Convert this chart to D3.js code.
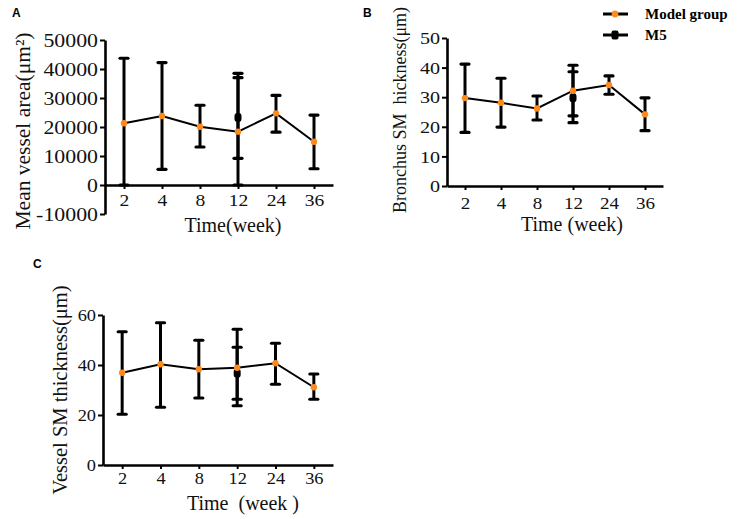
<!DOCTYPE html>
<html>
<head>
<meta charset="utf-8">
<script src="https://cdn.jsdelivr.net/npm/d3@7"></script>
<style>
  body { margin: 0; background: #fff; }
  svg { display: block; }
  .domain, .tick line { stroke: #000; }
</style>
</head>
<body>
<div id="chart"></div>
<script>
// weeks on x
const weeks = ["2", "4", "8", "12", "24", "36"];
const m5Weeks = ["12"];

// A: mean vessel area
const areaModel = [21300, 23800, 20100, 18400, 24700, 14900];
const areaModelLo = [0, 5400, 13100, 0, 18200, 5600];
const areaModelHi = [43700, 42200, 27500, 37000, 30900, 24100];
const areaM5 = [23300];
const areaM5Lo = [9200];
const areaM5Hi = [38500];
const areaTicks = [-10000, 0, 10000, 20000, 30000, 40000, 50000];

// B: bronchus SM thickness
const bronModel = [29.7, 28.1, 26.2, 32.2, 34.1, 24.2];
const bronModelLo = [18.1, 19.9, 22.3, 21.4, 31.0, 18.7];
const bronModelHi = [41.2, 36.4, 30.4, 40.8, 37.2, 29.8];
const bronM5 = [29.8];
const bronM5Lo = [23.7];
const bronM5Hi = [38.6];
const bronTicks = [0, 10, 20, 30, 40, 50];

// C: vessel SM thickness
const vesModel = [36.9, 40.3, 38.3, 38.9, 40.7, 31.1];
const vesModelLo = [20.3, 23.1, 26.8, 23.7, 32.3, 26.3];
const vesModelHi = [53.3, 56.9, 49.9, 54.3, 48.7, 36.4];
const vesM5 = [36.7];
const vesM5Lo = [26.3];
const vesM5Hi = [47.1];
const vesTicks = [0, 20, 40, 60];

const orange = "#ff8a1c";
const serif = "'Liberation Serif', 'Times New Roman', Times, serif";
const sans = "'Liberation Sans', Arial, Helvetica, sans-serif";

const svg = d3.select("#chart").append("svg")
  .attr("width", 737)
  .attr("height", 519);

function drawPanel(p) {
  const x = d3.scalePoint().domain(weeks).range(p.xRange).padding(0.5);
  const y = d3.scaleLinear().domain(p.yDomain).range(p.yRange);
  const g = svg.append("g");

  // y axis
  const ya = g.append("g")
    .attr("transform", `translate(${p.xRange[0]},0)`)
    .call(d3.axisLeft(y).tickValues(p.ticks).tickFormat(d => String(d))
      .tickSize(5).tickSizeOuter(0).tickPadding(0));
  ya.selectAll(".tick text").attr("x", 0)
    .style("font-family", serif).style("font-size", p.yTickFont + "px")
    .attr("fill", "#111")
    .attr("transform", `translate(-7,0) scale(${p.yStretch},1)`);

  // x axis sits at y = 0
  const xa = g.append("g")
    .attr("transform", `translate(0,${y(0)})`)
    .call(d3.axisBottom(x).tickSize(4).tickSizeOuter(0).tickPadding(p.xPad));
  xa.selectAll(".tick text")
    .style("font-family", serif).style("font-size", p.xTickFont + "px")
    .attr("fill", "#111")
    .attr("transform", `scale(${p.xStretch},1)`);

  g.selectAll(".domain").attr("stroke-width", 2.6);
  g.selectAll(".tick line").attr("stroke-width", 2);

  // titles
  g.append("text")
    .attr("transform", `translate(${p.yTitleX},${p.yTitleY}) rotate(-90)`)
    .attr("text-anchor", "middle")
    .style("font-family", serif).style("font-size", p.yTitleFont + "px")
    .attr("fill", "#111")
    .text(p.yTitle);
  g.append("text")
    .attr("x", p.xTitleX).attr("y", p.xTitleY)
    .attr("text-anchor", "middle")
    .style("font-family", serif).style("font-size", "20px")
    .attr("fill", "#111")
    .text(p.xTitle);
  g.append("text")
    .attr("x", p.labelX).attr("y", p.labelY)
    .style("font-family", sans).style("font-size", "12px").style("font-weight", "bold")
    .text(p.label);

  const model = weeks.map((w, i) => ({ w, v: p.model[i], lo: p.lo[i], hi: p.hi[i] }));
  const m5 = m5Weeks.map((w, i) => ({ w, v: p.m5[i], lo: p.m5Lo[i], hi: p.m5Hi[i] }));

  g.append("path")
    .datum(model)
    .attr("fill", "none")
    .attr("stroke", "#000")
    .attr("stroke-width", 2)
    .attr("d", d3.line().x(d => x(d.w)).y(d => y(d.v)));

  function errBars(data) {
    const eb = g.append("g").selectAll("g").data(data).join("g");
    eb.append("line")
      .attr("x1", d => x(d.w)).attr("x2", d => x(d.w))
      .attr("y1", d => y(d.lo)).attr("y2", d => y(d.hi))
      .attr("stroke", "#000").attr("stroke-width", 3);
    ["lo", "hi"].forEach(k => {
      eb.append("line")
        .attr("x1", d => x(d.w) - 4).attr("x2", d => x(d.w) + 4)
        .attr("y1", d => y(d[k])).attr("y2", d => y(d[k]))
        .attr("stroke", "#000").attr("stroke-width", 3.2)
        .attr("stroke-linecap", "round");
    });
  }
  errBars(model);
  errBars(m5);

  g.append("g").selectAll("rect").data(m5).join("rect")
    .attr("x", d => x(d.w) - 3.5).attr("y", d => y(d.v) - 4.5)
    .attr("width", 7).attr("height", 9).attr("rx", 3)
    .attr("fill", "#000");

  g.append("g").selectAll("circle").data(model).join("circle")
    .attr("cx", d => x(d.w)).attr("cy", d => y(d.v))
    .attr("r", 3.2)
    .attr("fill", orange);
}

drawPanel({
  label: "A", labelX: 12, labelY: 17,
  xRange: [105, 333], yDomain: [-10000, 50000], yRange: [214, 40], ticks: areaTicks,
  model: areaModel, lo: areaModelLo, hi: areaModelHi,
  m5: areaM5, m5Lo: areaM5Lo, m5Hi: areaM5Hi,
  yTickFont: 19, yStretch: 1.15, xTickFont: 17, xStretch: 1.15, xPad: 5,
  yTitle: "Mean vessel area(μm²)", yTitleX: 30, yTitleY: 131, yTitleFont: 21.5,
  xTitle: "Time(week)", xTitleX: 233, xTitleY: 232
});

drawPanel({
  label: "B", labelX: 363, labelY: 17,
  xRange: [447, 663], yDomain: [0, 50], yRange: [186, 38], ticks: bronTicks,
  model: bronModel, lo: bronModelLo, hi: bronModelHi,
  m5: bronM5, m5Lo: bronM5Lo, m5Hi: bronM5Hi,
  yTickFont: 17.5, yStretch: 1.15, xTickFont: 17, xStretch: 1.12, xPad: 7,
  yTitle: "Bronchus SM\u00a0 hickness(μm)", yTitleX: 406, yTitleY: 110, yTitleFont: 18,
  xTitle: "Time (week)", xTitleX: 572, xTitleY: 231
});

drawPanel({
  label: "C", labelX: 33, labelY: 268,
  xRange: [103, 333], yDomain: [0, 60], yRange: [465, 315], ticks: vesTicks,
  model: vesModel, lo: vesModelLo, hi: vesModelHi,
  m5: vesM5, m5Lo: vesM5Lo, m5Hi: vesM5Hi,
  yTickFont: 17.5, yStretch: 1.05, xTickFont: 17.5, xStretch: 1.05, xPad: 3,
  yTitle: "Vessel SM thickness(μm)", yTitleX: 67, yTitleY: 390, yTitleFont: 20.5,
  xTitle: "Time\u00a0 (week\u00a0)", xTitleX: 243, xTitleY: 510
});

// legend (top right of panel B)
const legend = svg.append("g");
const legendItems = ["Model group", "M5"];
const legendY = d3.scalePoint().domain(legendItems).range([14, 35]);
legendItems.forEach(name => {
  const ly = legendY(name);
  legend.append("line")
    .attr("x1", 603).attr("x2", 628).attr("y1", ly).attr("y2", ly)
    .attr("stroke", "#000").attr("stroke-width", 3);
  if (name === "M5") {
    legend.append("rect")
      .attr("x", 611.5).attr("y", ly - 4.5).attr("width", 7).attr("height", 9).attr("rx", 2)
      .attr("fill", "#000");
  } else {
    legend.append("circle")
      .attr("cx", 615).attr("cy", ly).attr("r", 3.4).attr("fill", orange);
  }
  legend.append("text")
    .attr("x", 645).attr("y", ly + 5)
    .style("font-family", serif).style("font-size", "15px").style("font-weight", "bold")
    .text(name);
});
</script>
</body>
</html>
